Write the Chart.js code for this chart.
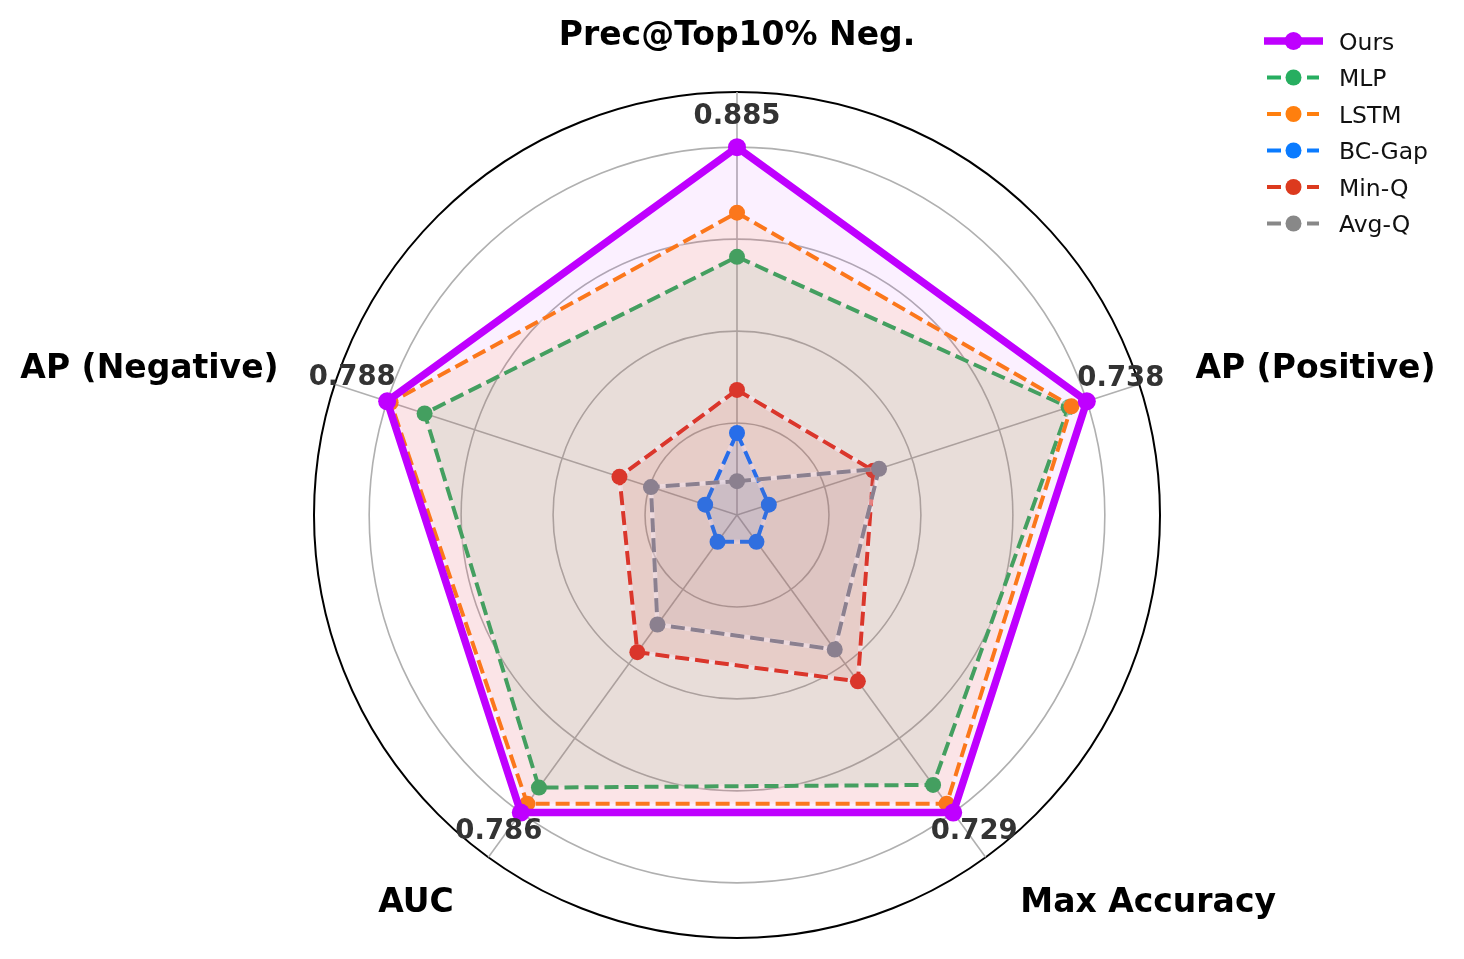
<!DOCTYPE html>
<html><head><meta charset="utf-8">
<script src="https://cdn.jsdelivr.net/npm/chart.js@4.4.1/dist/chart.umd.min.js"></script>
<style>html,body{margin:0;padding:0;background:#fff;}canvas{display:block;}</style>
</head><body>
<canvas id="c" width="1464" height="959"></canvas>
<script>
// ---- data ----
const categories = ['Prec@Top10% Neg.', 'AP (Positive)', 'Max Accuracy', 'AUC', 'AP (Negative)'];
const seriesNames = ['Ours', 'MLP', 'LSTM', 'BC-Gap', 'Min-Q', 'Avg-Q'];
const ours  = [1.000, 1.000, 1.000, 1.000, 1.000];
const mlp   = [0.702, 0.948, 0.907, 0.916, 0.893];
const lstm  = [0.822, 0.956, 0.970, 0.970, 0.990];
const bcGap = [0.223, 0.091, 0.090, 0.090, 0.091];
const minQ  = [0.340, 0.390, 0.559, 0.461, 0.336];
const avgQ  = [0.092, 0.406, 0.452, 0.368, 0.246];
const oursValueLabels = ['0.885', '0.738', '0.729', '0.786', '0.788'];
const gridTicks = [0, 0.25, 0.5, 0.75, 1.0, 1.15];

// ---- styles ----
const seriesValues = [ours, mlp, lstm, bcGap, minQ, avgQ];
const colors = ['#bf00ff', '#27ae60', '#ff7f0e', '#0a7bff', '#dc3a1e', '#888888'];
const drawOrder = [0, 5, 4, 3, 2, 1];
const FONT = "'DejaVu Sans', 'Liberation Sans', sans-serif";
const valueLabelOffsets = [[0, -30], [34, -22], [21, 19], [-22, 19], [-35, -23]];

function hexA(hex, a) {
  const n = parseInt(hex.slice(1), 16);
  return `rgba(${(n >> 16) & 255},${(n >> 8) & 255},${n & 255},${a})`;
}

const datasets = seriesValues.map((vals, i) => {
  const isOurs = i === 0;
  return {
    label: seriesNames[i],
    data: vals,
    borderColor: colors[i],
    backgroundColor: hexA(colors[i], isOurs ? 0.06 : 0.1),
    fill: true,
    borderWidth: isOurs ? 7.5 : 4,
    borderDash: isOurs ? [] : [14, 6],
    borderJoinStyle: 'round',
    borderCapStyle: 'butt',
    pointRadius: isOurs ? 9 : 8,
    pointBorderWidth: 0,
    pointBackgroundColor: colors[i],
    pointBorderColor: colors[i],
    tension: 0,
    order: drawOrder[i]
  };
});

const haloPlugin = {
  id: 'halo',
  beforeDatasetDraw(chart, args) {
    if (args.index === 0) return;
    const pts = args.meta.data;
    if (!pts.length) return;
    const ctx = chart.ctx;
    ctx.save();
    ctx.strokeStyle = 'rgba(255,255,255,0.4)';
    ctx.lineWidth = 4.5;
    ctx.lineJoin = 'round';
    ctx.beginPath();
    pts.forEach((p, k) => (k ? ctx.lineTo(p.x, p.y) : ctx.moveTo(p.x, p.y)));
    ctx.closePath();
    ctx.stroke();
    ctx.restore();
  }
};

const overlayPlugin = {
  id: 'overlay',
  afterDraw(chart) {
    const ctx = chart.ctx;
    const scale = chart.scales.r;
    ctx.save();
    // axis labels
    ctx.font = `bold 33px ${FONT}`;
    ctx.fillStyle = '#000';
    ctx.textBaseline = 'alphabetic';
    categories.forEach((cat, i) => {
      const p = scale.getPointPosition(i, scale.drawingArea * 482 / 423);
      let align = 'center';
      if (p.x > scale.xCenter + 2) align = 'left';
      else if (p.x < scale.xCenter - 2) align = 'right';
      ctx.textAlign = align;
      const dy = p.y > scale.yCenter ? 7 : 11.5;
      ctx.fillText(cat, p.x, p.y + dy);
    });
    // value labels for "Ours"
    const meta = chart.getDatasetMeta(0);
    ctx.font = `bold 27.5px ${FONT}`;
    ctx.fillStyle = '#333333';
    ctx.textAlign = 'center';
    ctx.textBaseline = 'middle';
    meta.data.forEach((pt, i) => {
      const o = valueLabelOffsets[i];
      ctx.fillText(oursValueLabels[i], pt.x + o[0], pt.y + o[1]);
    });
    // legend
    ctx.font = `23.5px ${FONT}`;
    ctx.textAlign = 'left';
    ctx.textBaseline = 'alphabetic';
    seriesNames.forEach((name, i) => {
      const y = 41 + i * 36.5;
      const isOurs = i === 0;
      ctx.strokeStyle = colors[i];
      ctx.lineWidth = isOurs ? 7.5 : 4;
      ctx.setLineDash(isOurs ? [] : [14, 6]);
      ctx.lineCap = 'butt';
      ctx.beginPath();
      ctx.moveTo(isOurs ? 1264 : 1267, y);
      ctx.lineTo(isOurs ? 1323 : 1319, y);
      ctx.stroke();
      ctx.setLineDash([]);
      ctx.fillStyle = colors[i];
      ctx.beginPath();
      ctx.arc(1293.5, y, isOurs ? 9 : 8, 0, Math.PI * 2);
      ctx.fill();
      ctx.fillStyle = '#111';
      ctx.fillText(name, 1339, y + 8.5);
    });
    ctx.restore();
  }
};

new Chart(document.getElementById('c'), {
  type: 'radar',
  data: { labels: categories, datasets },
  options: {
    responsive: false,
    devicePixelRatio: 1,
    animation: false,
    events: [],
    layout: { padding: { left: 10, right: 0, top: 92, bottom: 21 } },
    plugins: { legend: { display: false }, tooltip: { enabled: false } },
    scales: {
      r: {
        min: 0,
        max: 1.15,
        afterBuildTicks: (axis) => { axis.ticks = gridTicks.map(v => ({ value: v })); },
        ticks: { display: false },
        pointLabels: { display: false },
        grid: {
          circular: true,
          color: (c) => (c.tick && c.tick.value >= 1.15 ? '#000000' : '#b0b0b0'),
          lineWidth: (c) => (c.tick && c.tick.value >= 1.15 ? 2 : 1.6)
        },
        angleLines: { color: '#b0b0b0', lineWidth: 1.6 }
      }
    }
  },
  plugins: [haloPlugin, overlayPlugin]
});
</script>
</body></html>
